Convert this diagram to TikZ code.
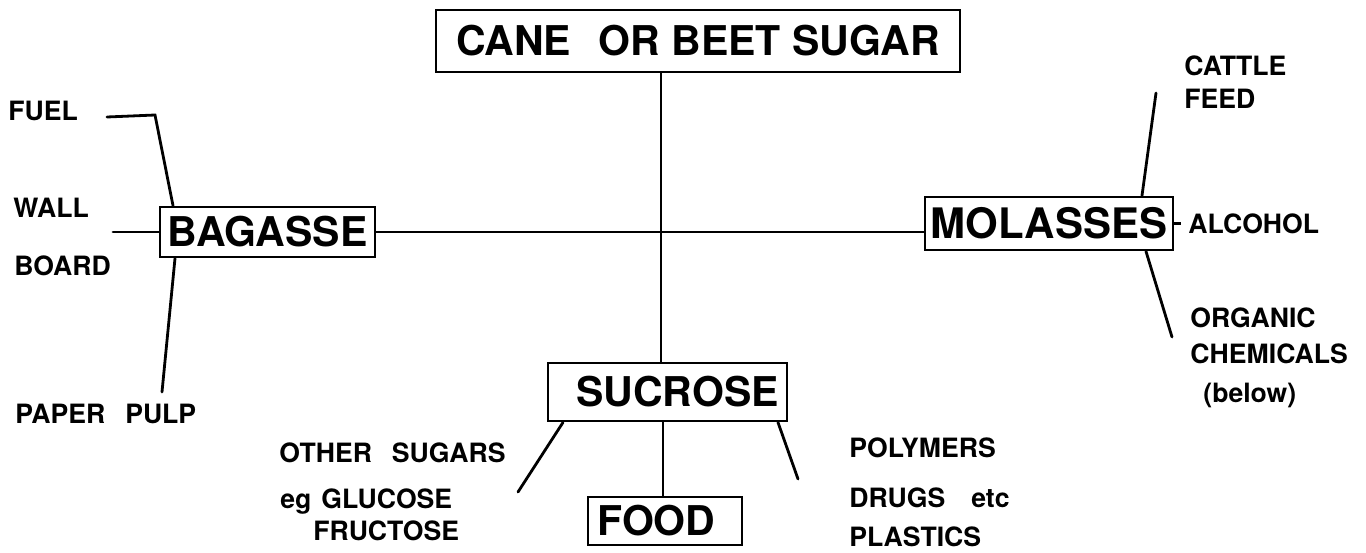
\documentclass[tikz,border=0pt]{standalone}
\usepackage{fontspec}
\setmainfont{TeX Gyre Heros}
\begin{document}
\begin{tikzpicture}[x=0.5pt,y=-0.5pt,line width=1.4pt,
  lbl/.style={anchor=base west,inner sep=0pt,font=\fontsize{13.3}{16}\selectfont\bfseries},
  box/.style={draw,inner sep=0pt,text height=14.7pt,text depth=0pt,font=\fontsize{20.5}{24}\selectfont\bfseries},
  link/.style={line cap=round}]
\useasboundingbox (0,0) rectangle (1366,552);
% boxes
\node[box,minimum width=262pt,minimum height=31pt] (cane) at (698,41) {CANE\hspace{0.4em} OR BEET SUGAR};
\node[box,minimum width=107.5pt,minimum height=25pt] (bag) at (267.5,232) {BAGASSE};
\node[box,minimum width=124pt,minimum height=26.5pt,font=\fontsize{21}{25}\selectfont\bfseries] (mol) at (1049,223.5) {MOLASSES};
\node[box,minimum width=119.5pt,minimum height=29pt] (suc) at (667.5,392) {\hspace*{10pt}SUCROSE};
\node[box,minimum width=77pt,minimum height=24pt] (food) at (665,521) {FOOD\hspace*{8.5pt}};
% labels
\node[lbl] (fuel) at (7,120) {FUEL};
\node[lbl] (wall) at (12,217) {WALL};
\node[lbl] (board) at (13,275) {BOARD};
\node[lbl] (pulp) at (14,423) {PAPER\hspace{10pt}PULP};
\node[lbl] (cattle) at (1183,75) {CATTLE};
\node[lbl] (feed) at (1183,108) {FEED};
\node[lbl] (alc) at (1187,233) {ALCOHOL};
\node[lbl] (org) at (1189,327) {ORGANIC};
\node[lbl] (chem) at (1189,363) {CHEMICALS};
\node[lbl] (below) at (1202,402) {(below)};
\node[lbl] (other) at (278,462) {OTHER\hspace{10pt}SUGARS};
\node[lbl] (gluc) at (279,508) {eg\hspace{5pt}GLUCOSE};
\node[lbl] (fruc) at (312,540) {FRUCTOSE};
\node[lbl] (poly) at (848,457) {POLYMERS};
\node[lbl] (drugs) at (848,507) {DRUGS\hspace{13pt}etc};
\node[lbl] (plast) at (848,546) {PLASTICS};
% helper coordinates
\coordinate (vx) at (661,0);
\coordinate (sfx) at (663,0);
\coordinate (fa) at (107,117);
\coordinate (fb) at (155,115);
\coordinate (fcx) at (173,0);
\coordinate (wa) at (113,232);
\coordinate (pux) at (175,0);
\coordinate (pe) at (162,392);
\coordinate (ca) at (1156,93);
\coordinate (cax) at (1142,0);
\coordinate (al) at (1181,0);
\coordinate (orx) at (1146,0);
\coordinate (oe) at (1172,337);
\coordinate (slx) at (563,0);
\coordinate (sle) at (518,492);
\coordinate (srx) at (778,0);
\coordinate (sre) at (798,479);
% connectors
\draw (cane.south -| vx) -- (suc.north -| vx);
\draw (bag.east) -- (bag.east -| mol.west);
\draw (suc.south -| sfx) -- (food.north -| sfx);
\draw[link] (fa) -- (fb) -- (bag.north -| fcx);
\draw[link] (wa) -- (bag.west);
\draw[link] (bag.south -| pux) -- (pe);
\draw[link] (ca) -- (mol.north -| cax);
\draw (mol.east) -- (mol.east -| al);
\draw[link] (mol.south -| orx) -- (oe);
\draw[link] (suc.south -| slx) -- (sle);
\draw[link] (suc.south -| srx) -- (sre);
\end{tikzpicture}
\end{document}
